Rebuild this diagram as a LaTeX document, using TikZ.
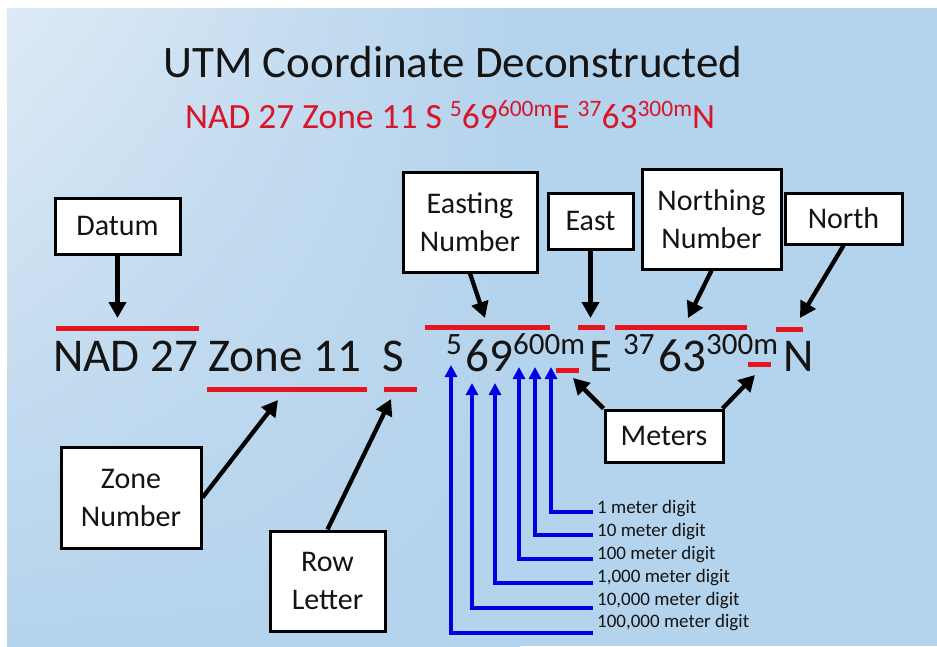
\documentclass[tikz,border=0pt]{standalone}
\usepackage{fontspec}
\setmainfont{Carlito}
\usetikzlibrary{arrows.meta,shadings}
\definecolor{bgA}{HTML}{DEEAF6}
\definecolor{bgB}{HTML}{B4D3EC}
\definecolor{utmred}{HTML}{E5141E}
\definecolor{subred}{HTML}{D8162A}
\definecolor{utmblue}{HTML}{0000E0}
\definecolor{ink}{HTML}{141414}
\newcommand\redsup[1]{\raisebox{12.5pt}{\fontsize{23.5}{25}\selectfont #1}}
\tikzset{
 lbox/.style={draw=black, line width=3pt, fill=white, align=center, inner sep=0pt, text=ink, font=\fontsize{30}{38}\selectfont},
 blackarrow/.style={draw=black, line width=4.3pt, -{Triangle[length=16pt,width=17pt]}},
 bluearrow/.style={draw=utmblue, line width=3.8pt, -{Triangle[length=12pt,width=12pt]}},
 redbar/.style={draw=utmred, line width=5pt},
 bigtxt/.style={font=\fontsize{47}{50}\selectfont, anchor=base west, inner sep=0pt, text=ink},
 bigsup/.style={font=\fontsize{31}{34}\selectfont, anchor=base west, inner sep=0pt, text=ink},
 digitlabel/.style={font=\fontsize{19}{22}\selectfont, anchor=base west, inner sep=0pt, text=ink},
}
\begin{document}
\begin{tikzpicture}[x=1pt,y=-1pt]
\useasboundingbox (0,0) rectangle (937,646);
\fill[white] (0,0) rectangle (937,646);
\fill[bgB] (7,8) rectangle (937,646);
\shade[upper left=bgA, upper right=bgB, lower left=bgB, lower right=bgB] (7,8) rectangle (520,646);

% title
\node[font=\fontsize{45}{50}\selectfont, anchor=base, inner sep=0pt, text=ink] (title) at (453,77) {UTM Coordinate Deconstructed};
\node[font=\fontsize{35.5}{40}\selectfont, anchor=base, inner sep=0pt, text=subred] (subtitle) at (450,128.5)
 {NAD 27 Zone 11 S \redsup{5}69\redsup{600m}E \redsup{37}63\redsup{300m}N};

% main coordinate line
\node[bigtxt] (nadzone) at (53,371) {NAD 27 Zone 11};
\node[bigtxt] (rowS) at (382,371) {S};
\node[bigsup] (e5) at (446,354) {5};
\node[bigtxt] (e69) at (465,371) {69};
\node[bigsup] (e600) at (513,354) {600m};
\node[bigtxt] (eE) at (589,371) {E};
\node[bigsup] (n37) at (623,354) {37};
\node[bigtxt] (n63) at (658,371) {63};
\node[bigsup] (n300) at (706,354) {300m};
\node[bigtxt] (nN) at (783,371) {N};

% red bars
\draw[redbar] (56,328) -- (199,328);
\draw[redbar] (207,389) -- (367,389);
\draw[redbar] (384,389) -- (417,389);
\draw[redbar] (425,327) -- (550,327);
\draw[redbar] (578,327) -- (605,327);
\draw[redbar] (615,327) -- (747,327);
\draw[redbar] (776,329) -- (803,329);
\draw[redbar] (556,370) -- (579,370);
\draw[redbar] (748,364) -- (771,364);

% label boxes
\node[lbox, minimum width=125pt, minimum height=56pt] (datum) at (117.5,226) {Datum};
\node[lbox, minimum width=140pt, minimum height=101pt] (zonenum) at (131,497.5) {Zone\\Number};
\node[lbox, minimum width=115pt, minimum height=100pt] (rowlet) at (327.5,581) {Row\\Letter};
\node[lbox, minimum width=134pt, minimum height=100pt] (eastnum) at (470,222) {Easting\\Number};
\node[lbox, minimum width=85pt, minimum height=56pt] (east) at (590.5,221) {East};
\node[lbox, minimum width=139pt, minimum height=100pt] (northnum) at (711.5,219) {Northing\\Number};
\node[lbox, minimum width=117pt, minimum height=51pt] (north) at (843.5,218.5) {North};
\node[lbox, minimum width=118pt, minimum height=52pt] (meters) at (664,436) {Meters};

% arrow tips
\coordinate (tDatum) at (117.5,318);
\coordinate (tZone) at (278,400);
\coordinate (tRow) at (391,399);
\coordinate (tEastNum) at (485,318);
\coordinate (tEast) at (590.5,318);
\coordinate (tNorthNum) at (688,318);
\coordinate (tNorth) at (800,318);
\coordinate (tMeterA) at (573,378);
\coordinate (tMeterB) at (755,375);

\draw[blackarrow] (datum.south) -- (tDatum);
\draw[blackarrow] (zonenum.east) -- (tZone);
\draw[blackarrow] (rowlet.north) -- (tRow);
\draw[blackarrow] (eastnum.south) -- (tEastNum);
\draw[blackarrow] (east.south) -- (tEast);
\draw[blackarrow] (northnum.south) -- (tNorthNum);
\draw[blackarrow] (north.south) -- (tNorth);
\draw[blackarrow] (meters.north west) -- (tMeterA);
\draw[blackarrow] ([xshift=-2pt]meters.north east) -- (tMeterB);

% digit place labels
\node[digitlabel] (l1) at (597,513) {1 meter digit};
\node[digitlabel] (l2) at (597,536) {10 meter digit};
\node[digitlabel] (l3) at (597,559) {100 meter digit};
\node[digitlabel] (l4) at (597,582) {1,000 meter digit};
\node[digitlabel] (l5) at (597,605) {10,000 meter digit};
\node[digitlabel] (l6) at (597,627) {100,000 meter digit};

\coordinate (b1) at (593,512);
\coordinate (b2) at (593,535);
\coordinate (b3) at (593,559);
\coordinate (b4) at (593,583);
\coordinate (b5) at (593,608);
\coordinate (b6) at (593,633);
\coordinate (d1) at (551,367);
\coordinate (d2) at (535,367);
\coordinate (d3) at (519,367);
\coordinate (d4) at (495,383);
\coordinate (d5) at (472,383);
\coordinate (d6) at (451,365);

\draw[bluearrow] (b1) -| (d1);
\draw[bluearrow] (b2) -| (d2);
\draw[bluearrow] (b3) -| (d3);
\draw[bluearrow] (b4) -| (d4);
\draw[bluearrow] (b5) -| (d5);
\draw[bluearrow] (b6) -| (d6);
\end{tikzpicture}
\end{document}
